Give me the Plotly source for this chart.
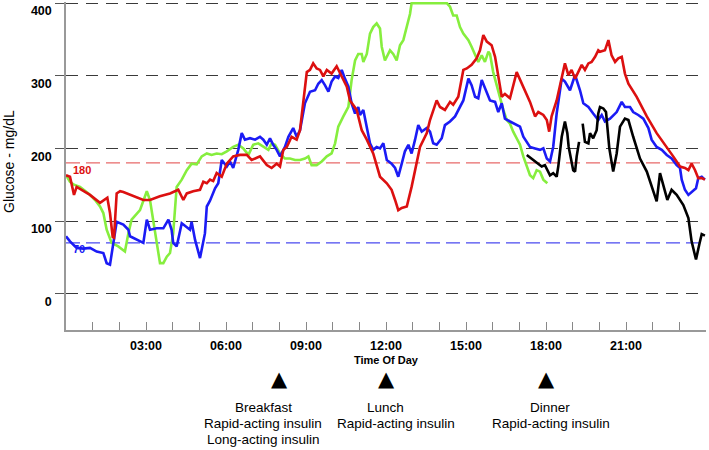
import plotly.graph_objects as go

# ---------------- data (hours of day, glucose mg/dL) ----------------
red_t = [0, 0.15, 0.3, 0.4, 0.9, 1.275, 1.55, 1.65, 1.75, 1.8, 1.9, 2.03, 2.15, 2.4, 2.9, 3.15, 3.52, 3.9,
         4.21, 4.4, 4.53, 4.77, 5.025, 5.15, 5.28, 5.4, 5.52, 5.65, 5.84, 6.03, 6.27, 6.525, 6.78, 6.96, 7.275,
         7.53, 7.71, 7.9, 8.025, 8.15, 8.28, 8.46, 8.65, 8.775, 8.9, 9.03, 9.15, 9.27, 9.4, 9.525, 9.65, 9.78,
         9.96, 10.15, 10.34, 10.53, 10.65, 10.9, 11.09, 11.28, 11.52, 11.775, 12.03, 12.21, 12.34, 12.46, 12.59,
         12.78, 12.96, 13.15, 13.275, 13.53, 13.65, 13.9, 14.025, 14.21, 14.4, 14.52, 14.71, 14.9, 15.03, 15.21,
         15.4, 15.525, 15.65, 15.78, 15.96, 16.09, 16.21, 16.34, 16.46, 16.65, 16.9, 17.15, 17.4, 17.59, 17.71,
         17.9, 18.03, 18.12, 18.21, 18.4, 18.59, 18.71, 18.84, 18.96, 19.09, 19.21, 19.34, 19.46, 19.59, 19.71,
         19.84, 19.96, 20.025, 20.21, 20.34, 20.46, 20.59, 20.71, 20.84, 20.96, 21.09, 21.4, 21.78, 22.15, 22.53,
         22.77, 23.025, 23.21, 23.34, 23.46, 23.59, 23.71, 23.84, 23.96]
red_v = [163, 161, 136, 147, 136, 125, 132, 111, 78, 77, 138, 141, 140, 136, 129, 129, 134, 138,
         143, 129, 138, 141, 143, 154, 152, 157, 155, 166, 161, 179, 189, 191, 191, 184, 189,
         177, 173, 179, 175, 198, 202, 216, 212, 225, 266, 305, 308, 317, 310, 308, 299, 308,
         303, 313, 299, 285, 266, 253, 225, 212, 193, 161, 152, 143, 129, 115, 118,
         120, 147, 179, 202, 221, 239, 266, 257, 253, 264, 260, 271, 308, 310, 315,
         324, 335, 356, 347, 342, 326, 299, 271, 275, 269, 305, 285, 264, 244, 250,
         246, 239, 223, 244, 266, 296, 317, 301, 308, 296, 305, 315, 308, 317, 319,
         326, 335, 333, 335, 349, 328, 319, 324, 326, 303, 289, 271, 244, 221, 202,
         189, 175, 173, 170, 179, 170, 159, 159, 157]

blue_t = [0, 0.15, 0.4, 0.65, 0.9, 1.15, 1.4, 1.525, 1.65, 1.84, 1.9, 2.15, 2.34, 2.4, 2.65, 2.9, 3.03, 3.15,
          3.4, 3.65, 3.84, 3.96, 4.02, 4.15, 4.34, 4.53, 4.65, 4.71, 4.84, 5.025, 5.21, 5.28, 5.4, 5.59, 5.71,
          5.84, 6.03, 6.15, 6.27, 6.46, 6.59, 6.71, 6.9, 7.09, 7.275, 7.4, 7.53, 7.65, 7.77, 7.9, 8.025, 8.21,
          8.34, 8.52, 8.65, 8.775, 8.96, 9.15, 9.34, 9.46, 9.59, 9.71, 9.84, 9.96, 10.09, 10.21, 10.34, 10.46,
          10.59, 10.71, 10.84, 10.96, 11.025, 11.15, 11.28, 11.4, 11.52, 11.65, 11.775, 11.9, 12.03, 12.21,
          12.34, 12.46, 12.59, 12.71, 12.84, 12.96, 13.09, 13.21, 13.34, 13.53, 13.65, 13.77, 13.9, 14.09,
          14.21, 14.4, 14.59, 14.775, 14.9, 15.09, 15.21, 15.34, 15.46, 15.59, 15.71, 15.9, 16.09, 16.21,
          16.34, 16.46, 16.65, 16.84, 17.025, 17.15, 17.4, 17.59, 17.775, 17.9, 18.03, 18.15, 18.27, 18.4,
          18.59, 18.71, 18.9, 19.09, 19.275, 19.4, 19.59, 19.77, 19.96, 20.09, 20.21, 20.4, 20.65, 20.84,
          20.96, 21.15, 21.27, 21.46, 21.65, 21.84, 21.96, 22.15, 22.34, 22.53, 22.71, 22.9, 23.025, 23.09,
          23.21, 23.34, 23.52, 23.625, 23.71, 23.84, 23.96]
blue_v = [79, 72, 63, 62, 63, 58, 56, 42, 40, 88, 99, 95, 88, 79, 74, 70, 102, 88,
          90, 90, 102, 88, 70, 65, 97, 92, 88, 99, 74, 49, 83, 120, 128, 145, 152,
          184, 175, 182, 173, 198, 221, 212, 214, 212, 216, 212, 205, 214, 205, 198, 189, 202,
          216, 228, 216, 225, 262, 278, 280, 289, 294, 287, 278, 292, 299, 297, 308, 296,
          285, 262, 248, 257, 246, 253, 230, 207, 198, 202, 200, 207, 184, 179,
          173, 161, 179, 196, 205, 193, 212, 232, 223, 228, 223, 207, 205, 214,
          232, 237, 244, 257, 266, 296, 287, 271, 269, 294, 283, 266, 264, 250,
          262, 241, 237, 234, 230, 216, 202, 200, 198, 200, 186, 182, 202, 248,
          296, 292, 280, 301, 280, 262, 257, 248, 239, 246, 237, 241, 250, 264,
          257, 257, 250, 246, 241, 228, 212, 202, 198, 191, 186, 177, 173, 157,
          143, 136, 141, 145, 159, 161, 157]

green_t = [0, 0.15, 0.3, 0.525, 0.84, 1.09, 1.275, 1.4, 1.525, 1.71, 1.96, 2.21, 2.34, 2.46, 2.775, 2.9, 3.03,
           3.15, 3.27, 3.4, 3.525, 3.65, 3.78, 3.9, 4.02, 4.15, 4.34, 4.53, 4.71, 4.9, 5.09, 5.28, 5.46, 5.65,
           5.84, 6.03, 6.27, 6.46, 6.65, 6.84, 7.02, 7.21, 7.4, 7.59, 7.71, 7.84, 8.025, 8.21, 8.4, 8.59, 8.775,
           8.96, 9.09, 9.21, 9.4, 9.59, 9.78, 9.96, 10.09, 10.21, 10.4, 10.59, 10.71, 10.84, 10.96, 11.09, 11.15,
           11.28, 11.4, 11.52, 11.65, 11.775, 11.84, 11.96, 12.15, 12.27, 12.4, 12.525, 12.65, 12.78, 12.9,
           12.96, 14.28, 14.4, 14.52, 14.65, 14.775, 14.9, 15.09, 15.21, 15.34, 15.46, 15.59, 15.71, 15.84,
           15.9, 16.02, 16.15, 16.275, 16.4, 16.53, 16.65, 16.77, 16.9, 17.025, 17.15, 17.28, 17.4, 17.52,
           17.65, 17.775, 17.9, 18.05]
green_v = [163, 154, 150, 147, 138, 129, 120, 111, 88, 70, 65, 58, 83, 102, 115, 129, 141,
           129, 102, 70, 42, 42, 51, 56, 83, 147, 157, 170, 179, 178, 189, 193, 191, 193,
           192, 196, 202, 205, 200, 191, 205, 207, 202, 198, 207, 205, 193, 186, 186, 184, 184,
           186, 189, 177, 177, 182, 189, 193, 207, 230, 244, 257, 294, 321, 330, 330, 319,
           330, 358, 367, 372, 365, 340, 321, 335, 330, 321, 342, 349, 367, 385,
           400, 400, 395, 383, 383, 367, 358, 349, 340, 330, 319, 328, 319, 333,
           330, 305, 287, 271, 253, 239, 234, 223, 214, 205, 189, 175, 163, 159,
           170, 168, 157, 152]

black_t = [17.28, 17.46, 17.59, 17.71, 17.84, 17.96, 18.09, 18.15, 18.27, 18.4, 18.46, 18.59, 18.71, 18.8,
           18.85, 18.9, 19.02, 19.09, 19.15, 19.24, None,
           19.375, 19.46, 19.59, 19.65, 19.77, 19.9, 19.96, 20.025, 20.15, 20.25, 20.375, 20.52, 20.65,
           20.775, 20.96, 21.09, 21.27, 21.525, 21.78, 21.96, 22.15, 22.275, 22.4, 22.55, 22.71, 22.9, 23.15,
           23.34, 23.46, 23.625, 23.75, 23.84, 23.96]
black_v = [191, 186, 182, 179, 175, 177, 168, 163, 166, 161, 175, 216, 237, 221,
           202, 193, 170, 168, 189, 209, None,
           234, 209, 207, 221, 214, 225, 248, 257, 255, 250, 200, 168, 193,
           230, 241, 239, 216, 186, 168, 147, 127, 166, 150, 129, 143, 136, 122,
           104, 72, 47, 68, 82, 80]

y_ticks = [0, 100, 200, 300, 400]
x_tick_hours = list(range(1, 24))
x_tick_text = [f"{h:02d}:00" if h % 3 == 0 else "" for h in x_tick_hours]

high_limit = 180
low_limit = 70

event_hours = [8.0, 12.0, 18.0]
event_text = [
    (7.39, ["Breakfast", "Rapid-acting insulin", "Long-acting insulin"]),
    (11.99, ["Lunch"]),
    (12.36, [None, "Rapid-acting insulin"]),
    (18.15, ["Dinner"]),
    (18.19, [None, "Rapid-acting insulin"]),
]

# ---------------- figure ----------------
FONT = "Liberation Sans, Arial, Helvetica, sans-serif"
fig = go.Figure()

for t, v, col in [(green_t, green_v, "#86ee3e"), (blue_t, blue_v, "#1b1bf5"),
                  (red_t, red_v, "#dc1010"), (black_t, black_v, "#000000")]:
    fig.add_trace(go.Scatter(x=t, y=v, mode="lines", line=dict(color=col, width=2.6),
                             connectgaps=False, showlegend=False, hoverinfo="skip"))

# reference lines
fig.add_shape(type="line", xref="paper", x0=0, x1=1, yref="y", y0=high_limit, y1=high_limit,
              line=dict(color="#e86a6a", width=1.3, dash="14px,6px"), layer="below")
fig.add_shape(type="line", xref="paper", x0=0, x1=1, yref="y", y0=low_limit, y1=low_limit,
              line=dict(color="#4a4af0", width=1.3, dash="14px,6px"), layer="below")

fig.add_annotation(x=0.19, y=170.5, xref="x", yref="y", text=f"<b>{high_limit}</b>", showarrow=False,
                   xanchor="left", yanchor="middle", font=dict(family=FONT, size=11, color="#dc1010"))
fig.add_annotation(x=0.2, y=62, xref="x", yref="y", text=f"<b>{low_limit}</b>", showarrow=False,
                   xanchor="left", yanchor="middle", font=dict(family=FONT, size=11, color="#1b1bf5"))

# event markers
PLOT_TOP, PLOT_BOTTOM = 2, 330
H = PLOT_BOTTOM - PLOT_TOP
def py(ypx):
    return (PLOT_BOTTOM - ypx) / H

for h in event_hours:
    fig.add_annotation(x=h, y=py(379), xref="x", yref="paper", text="▲", showarrow=False,
                       xanchor="center", yanchor="middle",
                       font=dict(family="DejaVu Sans", size=21, color="#000000"))

line_y = [407.5, 423.5, 439.5]
for hx, lines in event_text:
    for i, txt in enumerate(lines):
        if txt is None:
            continue
        fig.add_annotation(x=hx, y=py(line_y[i]), xref="x", yref="paper", text=txt, showarrow=False,
                           xanchor="center", yanchor="middle",
                           font=dict(family=FONT, size=13.5, color="#000000"))

fig.add_annotation(x=0.5, y=py(359.5), xref="paper", yref="paper", text="<b>Time Of Day</b>",
                   showarrow=False, xanchor="center", yanchor="middle",
                   font=dict(family=FONT, size=11, color="#000000"))
fig.add_annotation(x=(9 - 66) / 640, y=py(162), xref="paper", yref="paper", text="Glucose - mg/dL",
                   textangle=-90, showarrow=False, xanchor="center", yanchor="middle",
                   font=dict(family=FONT, size=14, color="#000000"))

fig.update_layout(
    width=709, height=450,
    margin=dict(l=66, r=3, t=PLOT_TOP, b=450 - PLOT_BOTTOM, pad=0, autoexpand=False),
    paper_bgcolor="white", plot_bgcolor="white",
    showlegend=False,
    xaxis=dict(range=[0, 24], tickmode="array", tickvals=x_tick_hours, ticktext=x_tick_text,
               ticks="inside", ticklen=8, tickcolor="#888888", tickwidth=1, automargin=False,
               showline=True, linecolor="#999999", linewidth=1.5, showgrid=False, zeroline=False,
               tickfont=dict(family=FONT, size=12.5, color="#000000", weight="bold"),
               ticklabelstandoff=3),
    yaxis=dict(range=[-50, 401.5], tickmode="array", tickvals=y_ticks, automargin=False,
               ticks="outside", ticklen=9, tickcolor="#555555", tickwidth=1,
               showline=True, linecolor="#999999", linewidth=1.5, zeroline=False,
               showgrid=True, gridcolor="#3a3a3a", gridwidth=1.2, griddash="12px,8px",
               tickfont=dict(family=FONT, size=12.5, color="#000000", weight="bold"),
               ticklabelstandoff=1, ticklabelshift=8),
)

fig.write_html("out.html", config={"displayModeBar": False},
               post_script="document.body.style.margin='0';document.body.style.padding='0';")
